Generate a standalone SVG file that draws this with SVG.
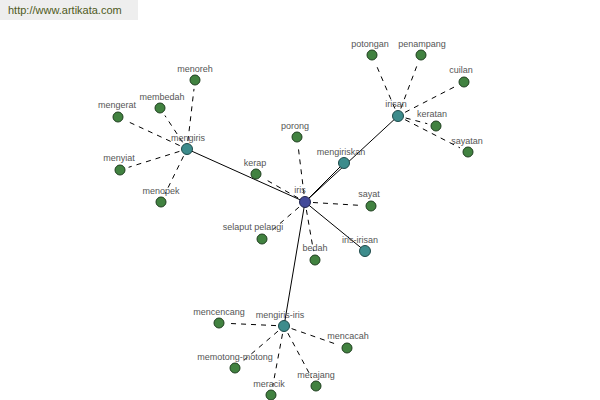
<svg xmlns="http://www.w3.org/2000/svg" width="600" height="400" viewBox="0 0 600 400">
<style>
.lbl{font-family:"Liberation Sans",Arial,sans-serif;font-size:9px;fill:#555;text-anchor:middle}
.leaf{fill:#418240;stroke:#1f3f1f;stroke-width:1}
.hub{fill:#3d8c8c;stroke:#1f4a4a;stroke-width:1}
.root{fill:#434a9a;stroke:#22264f;stroke-width:1}
.d{stroke:#000;stroke-width:1;stroke-dasharray:5,5;fill:none}
.s{stroke:#000;stroke-width:1;fill:none}
</style>
<rect x="0" y="0" width="138" height="20" fill="#eeeeee"/>
<text x="8" y="14" style="font-family:'Liberation Sans',Arial,sans-serif;font-size:11px;fill:#4e5a22">http://www.artikata.com</text>
<g id="connectors">
<line class="s" x1="305" y1="202" x2="187" y2="149"/>
<line class="s" x1="305" y1="202" x2="398" y2="116"/>
<line class="s" x1="305" y1="202" x2="344" y2="163"/>
<line class="s" x1="305" y1="202" x2="365" y2="251"/>
<line class="s" x1="305" y1="202" x2="284" y2="326"/>
<line class="d" x1="187.9" y1="141.1" x2="194.0" y2="88.9"/>
<line class="d" x1="182.6" y1="142.3" x2="164.9" y2="115.5"/>
<line class="d" x1="179.7" y1="145.6" x2="126.2" y2="120.8"/>
<line class="d" x1="179.4" y1="151.4" x2="128.6" y2="167.3"/>
<line class="d" x1="183.5" y1="156.2" x2="165.0" y2="193.9"/>
<line class="d" x1="394.9" y1="108.6" x2="375.5" y2="63.3"/>
<line class="d" x1="400.8" y1="108.5" x2="417.8" y2="63.4"/>
<line class="d" x1="405.1" y1="112.3" x2="456.0" y2="86.1"/>
<line class="d" x1="405.7" y1="118.0" x2="427.3" y2="123.7"/>
<line class="d" x1="405.1" y1="119.7" x2="460.0" y2="147.9"/>
<line class="d" x1="298.1" y1="198.0" x2="263.8" y2="178.5"/>
<line class="d" x1="304.0" y1="194.1" x2="298.1" y2="145.9"/>
<line class="d" x1="313.0" y1="202.5" x2="362.0" y2="205.5"/>
<line class="d" x1="306.4" y1="209.9" x2="313.5" y2="251.1"/>
<line class="d" x1="298.9" y1="207.2" x2="268.8" y2="233.1"/>
<line class="d" x1="276.0" y1="325.6" x2="228.0" y2="323.4"/>
<line class="d" x1="291.6" y1="328.6" x2="338.5" y2="345.0"/>
<line class="d" x1="277.9" y1="331.2" x2="241.8" y2="362.1"/>
<line class="d" x1="287.8" y1="333.1" x2="311.8" y2="378.1"/>
<line class="d" x1="282.5" y1="333.9" x2="272.7" y2="386.2"/>
</g>
<g id="iris"><circle class="root" cx="305" cy="202" r="5.5"/><text class="lbl" x="300" y="193">iris</text></g>
<g id="mengiris"><circle class="hub" cx="187" cy="149" r="5.5"/><text class="lbl" x="188" y="141">mengiris</text></g>
<g id="irisan"><circle class="hub" cx="398" cy="116" r="5.5"/><text class="lbl" x="396" y="107">irisan</text></g>
<g id="mengiriskan"><circle class="hub" cx="344" cy="163" r="5.5"/><text class="lbl" x="341" y="155">mengiriskan</text></g>
<g id="iris-irisan"><circle class="hub" cx="365" cy="251" r="5.5"/><text class="lbl" x="360" y="243">iris-irisan</text></g>
<g id="mengiris-iris"><circle class="hub" cx="284" cy="326" r="5.5"/><text class="lbl" x="280" y="318">mengiris-iris</text></g>
<g id="menoreh"><circle class="leaf" cx="195" cy="80" r="5"/><text class="lbl" x="195" y="72">menoreh</text></g>
<g id="membedah"><circle class="leaf" cx="160" cy="108" r="5"/><text class="lbl" x="162" y="100">membedah</text></g>
<g id="mengerat"><circle class="leaf" cx="118" cy="117" r="5"/><text class="lbl" x="117" y="108">mengerat</text></g>
<g id="menyiat"><circle class="leaf" cx="120" cy="170" r="5"/><text class="lbl" x="119" y="161">menyiat</text></g>
<g id="menopek"><circle class="leaf" cx="161" cy="202" r="5"/><text class="lbl" x="161" y="194">menopek</text></g>
<g id="kerap"><circle class="leaf" cx="256" cy="174" r="5"/><text class="lbl" x="255" y="166">kerap</text></g>
<g id="porong"><circle class="leaf" cx="297" cy="137" r="5"/><text class="lbl" x="295" y="129">porong</text></g>
<g id="sayat"><circle class="leaf" cx="371" cy="206" r="5"/><text class="lbl" x="369" y="197">sayat</text></g>
<g id="bedah"><circle class="leaf" cx="315" cy="260" r="5"/><text class="lbl" x="315" y="251">bedah</text></g>
<g id="selaput-pelangi"><circle class="leaf" cx="262" cy="239" r="5"/><text class="lbl" x="253" y="230">selaput pelangi</text></g>
<g id="potongan"><circle class="leaf" cx="372" cy="55" r="5"/><text class="lbl" x="370" y="47">potongan</text></g>
<g id="penampang"><circle class="leaf" cx="421" cy="55" r="5"/><text class="lbl" x="422" y="47">penampang</text></g>
<g id="cuilan"><circle class="leaf" cx="464" cy="82" r="5"/><text class="lbl" x="461" y="73">cuilan</text></g>
<g id="keratan"><circle class="leaf" cx="436" cy="126" r="5"/><text class="lbl" x="432" y="117">keratan</text></g>
<g id="sayatan"><circle class="leaf" cx="468" cy="152" r="5"/><text class="lbl" x="467" y="144">sayatan</text></g>
<g id="mencencang"><circle class="leaf" cx="219" cy="323" r="5"/><text class="lbl" x="219" y="315">mencencang</text></g>
<g id="mencacah"><circle class="leaf" cx="347" cy="348" r="5"/><text class="lbl" x="348" y="339">mencacah</text></g>
<g id="memotong-motong"><circle class="leaf" cx="235" cy="368" r="5"/><text class="lbl" x="235" y="360">memotong-motong</text></g>
<g id="merajang"><circle class="leaf" cx="316" cy="386" r="5"/><text class="lbl" x="316" y="378">merajang</text></g>
<g id="meracik"><circle class="leaf" cx="271" cy="395" r="5"/><text class="lbl" x="269" y="387">meracik</text></g>
</svg>
